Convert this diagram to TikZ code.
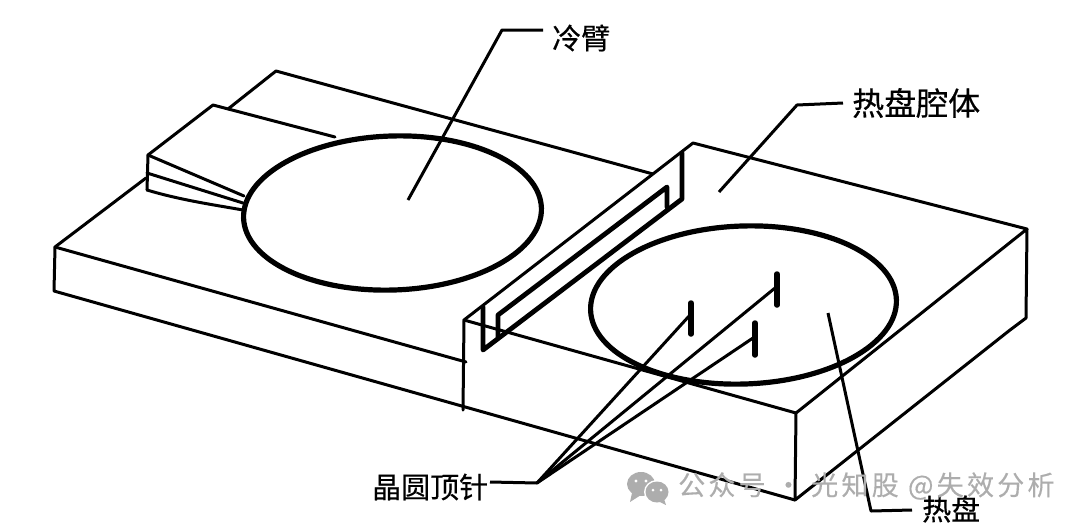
\documentclass[tikz,border=0pt]{standalone}
\usepackage{fontspec}
\newfontfamily\cjk[FakeBold=0.5]{Noto Sans CJK SC}
\newfontfamily\cjkwm[LetterSpace=12,FakeBold=0.3]{Noto Sans CJK SC}
\definecolor{wm}{gray}{0.68}
\tikzset{
  thinline/.style={draw=black,line width=3pt,line cap=round,line join=round},
  heavyline/.style={draw=black,line width=4.8pt,line cap=round,line join=round},
  waferring/.style={draw=black,line width=5.2pt},
  pinmark/.style={draw=black,line width=5.5pt,line cap=round},
  leader/.style={draw=black,line width=3pt,line join=round},
  lab/.style={inner sep=0pt,font=\cjk\fontsize{29}{29}\selectfont,text=black},
  wmtext/.style={inner sep=0pt,font=\cjkwm\fontsize{27}{27}\selectfont,text=wm},
}
\begin{document}
\begin{tikzpicture}[x=1pt,y=-1pt]
\useasboundingbox (0,0) rectangle (1080,531);
% left block
\draw[thinline] (146,178) -- (55,247) -- (54,291) -- (795,500);
\draw[thinline] (55,247) -- (466,362);
\draw[thinline] (228,109) -- (276,71) -- (653,174);
% cold arm
\draw[thinline] (335,137) -- (213,105) -- (148,155) -- (147,190);
\draw[thinline] (148,155) -- (244,196);
\draw[thinline] (147,173) -- (243,203);
\draw[thinline] (147,190) .. controls (180,200) and (215,205) .. (243,210);
% right block
\draw[thinline] (463,410) -- (464,320) -- (693,143) -- (1027,229) -- (796,413) -- (795,500) -- (1010,330) -- (1026,318) -- (1027,229);
\draw[thinline] (464,320) -- (796,413);
% groove
\draw[heavyline] (682,153) -- (682,199) -- (483,350) -- (483,307);
\draw[heavyline] (667,207) -- (667,187) -- (498,315) -- (498,337);
% wafers
\draw[waferring] (392.5,213) ellipse[x radius=149,y radius=77,rotate=2];
\draw[waferring] (743.5,305) ellipse[x radius=153,y radius=79,rotate=2];
% pins
\coordinate (pa) at (690,315);
\coordinate (pb) at (775,288);
\coordinate (pc) at (753,338);
\coordinate (hub) at (537,483);
\draw[pinmark] (691,303) -- (691,334);
\draw[pinmark] (777,274) -- (777,305);
\draw[pinmark] (755,323) -- (755,355);
% labels
\node[lab,anchor=west] (lcold) at (552,38) {冷臂};
\node[lab,anchor=west,font=\cjk\fontsize{32}{32}\selectfont] (lcav) at (852,103) {热盘腔体};
\node[lab,anchor=west] (lpin) at (372,487) {晶圆顶针};
\node[lab,anchor=west] (lhot) at (922,509) {热盘};
% leaders
\coordinate (ca) at (408,200);
\coordinate (cb) at (502,30);
\coordinate (cc) at (543,30);
\draw[leader] (ca) -- (cb) -- (cc);
\coordinate (da) at (719,192);
\coordinate (db) at (797,105);
\coordinate (dc) at (843,103);
\draw[leader] (da) -- (db) -- (dc);
\coordinate (ea) at (828,313);
\coordinate (eb) at (871,511);
\coordinate (ec) at (912,510);
\draw[leader] (ea) -- (eb) -- (ec);
\coordinate (fa) at (490,482);
\draw[leader] (fa) -- (hub) -- (pa);
\draw[leader] (hub) -- (pb);
\draw[leader] (hub) -- (pc);
% watermark
\fill[wm] (641,484) ellipse[x radius=14,y radius=12];
\fill[wm] (632,493) -- (630,502) -- (641,495) -- cycle;
\fill[white] (657,492) ellipse[x radius=13,y radius=12];
\fill[wm] (657,492) ellipse[x radius=11.5,y radius=10.5];
\fill[wm] (664,499) -- (666,505) -- (658,501) -- cycle;
\fill[white] (636,481) circle[radius=1.7] (646,481) circle[radius=1.7] (653,490) circle[radius=1.5] (661,490) circle[radius=1.5];
\node[wmtext,anchor=west] (wm) at (678,486) {公众号 · 光知股 @失效分析};
\end{tikzpicture}
\end{document}
